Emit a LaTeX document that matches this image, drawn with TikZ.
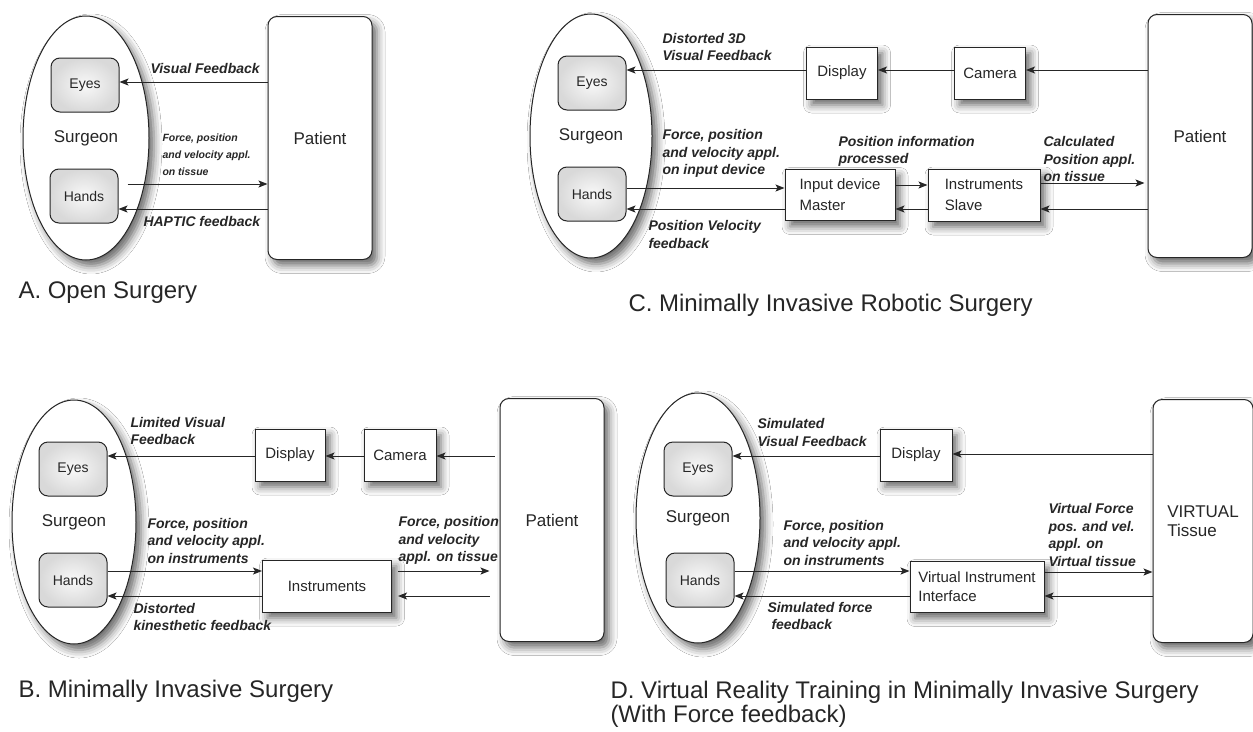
\documentclass[tikz,border=0pt]{standalone}
\usepackage{fontspec}
\setmainfont{Liberation Sans}
\usetikzlibrary{arrows.meta,positioning,shapes.geometric,shadows.blur}
\tikzset{>/.tip={Stealth[length=9pt,width=7pt,inset=2pt]}}
\newcommand\lblfont{\fontsize{14}{17.5}\selectfont\bfseries\itshape}
\newcommand\smlblfont{\fontsize{10.5}{17}\selectfont\bfseries\itshape}
\newcommand\boxfont{\fontsize{15}{19}\selectfont}
\newcommand\organfont{\fontsize{14}{17}\selectfont}
\newcommand\bigfont{\fontsize{17}{19}\selectfont}
\newcommand\titlefont{\fontsize{24}{24}\selectfont}
\tikzset{
  shdw/.style={blur shadow={shadow xshift=5pt,shadow yshift=-6pt,shadow blur radius=8pt,shadow opacity=60}},
  surgeon/.style={ellipse,draw,fill=white,font=\bigfont,shdw},
  organ/.style={rounded corners=9pt,draw,inner color=gray!5,outer color=gray!30,minimum width=68pt,minimum height=54pt,font=\organfont},
  device/.style={draw,fill=white,minimum height=52pt,inner sep=6pt,font=\boxfont,shdw},
  patient/.style={rounded corners=9pt,draw,fill=white,minimum width=104pt,minimum height=243pt,font=\bigfont,shdw},
  lbl/.style={font=\lblfont,align=left,inner sep=0pt,anchor=west},
  ttl/.style={font=\titlefont,align=left,inner sep=0pt,anchor=base west},
}
\begin{document}
\begin{tikzpicture}[x=1pt,y=-1pt,line width=1pt,color=black!85,node distance=1em and 3em]
      \useasboundingbox (0,0) rectangle (1253,731);
      \fill[white] (0,0) rectangle (1253,731);

      \node[surgeon,minimum width=126pt,minimum height=244pt](sgA) at (86,138){Surgeon};
      \node[organ](eyeA) at (85,85){Eyes};
      \node[organ](handA) at (84,196){Hands};
      \node[patient](patA) at (320,138){Patient};
      \node[lbl](lvA) at (150,68){Visual Feedback};
      \node[lbl,font=\smlblfont](lfA) at (162,155){Force, position\\and velocity appl.\\on tissue};
      \node[lbl](lhA) at (143,221){HAPTIC feedback};
      \node[ttl](tA) at (18,298){A. Open Surgery};
      \draw[->] (patA.west|-0,82) -- (eyeA.east|-0,82);
      \draw[->,shorten <=9pt] (handA.east|-0,184) -- (patA.west|-0,184);
      \draw[->] (patA.west|-0,209) -- (handA.east|-0,209);

      \node[surgeon,minimum width=122pt,minimum height=244pt](sgC) at (591,136){Surgeon};
      \node[organ](eyeC) at (592,83){Eyes};
      \node[organ](handC) at (592,194){Hands};
      \node[device,minimum width=71pt](dispC) at (842,73){Display};
      \node[device,minimum width=71pt,right=76pt of dispC](camC){Camera};
      \node[patient](patC) at (1200,136){Patient};
      \node[device,minimum width=110pt,minimum height=51pt,align=left](inC) at (840,195){Input device\\[2pt]Master};
      \node[device,minimum width=112pt,align=left,right=32pt of inC](insC){Instruments\\[2pt]Slave};
      \node[lbl](lvC) at (662,47){Distorted 3D\\Visual Feedback};
      \node[lbl](lfC) at (662,153.5){Force, position\\and velocity appl.\\on input device};
      \node[lbl](lpC) at (648,234.5){Position Velocity\\feedback};
      \node[lbl](liC) at (838,151.5){Position information\\processed};
      \node[lbl](lcC) at (1043,159){Calculated\\Position appl.\\on tissue};
      \node[ttl](tC) at (628,311){C. Minimally Invasive Robotic Surgery};
      \draw[->] (patC.west|-0,70) -- (camC.east|-0,70);
      \draw[->] (camC.west|-0,70) -- (dispC.east|-0,70);
      \draw[->] (dispC.west|-0,70) -- (eyeC.east|-0,70);
      \draw[->] (handC.east|-0,188) -- (inC.west|-0,188);
      \draw[->] (inC.west|-0,209) -- (handC.east|-0,209);
      \draw[->] (inC.east|-0,185) -- (insC.west|-0,185);
      \draw[->] (insC.west|-0,209) -- (inC.east|-0,209);
      \draw[->,shorten >=3pt] (insC.east|-0,183) -- (patC.west|-0,183);
      \draw[->] (patC.west|-0,209) -- (insC.east|-0,209);

      \node[surgeon,minimum width=124pt,minimum height=244pt](sgB) at (74,522){Surgeon};
      \node[organ](eyeB) at (73,469){Eyes};
      \node[organ](handB) at (73,580){Hands};
      \node[device,minimum width=70pt](dispB) at (290,455){Display};
      \node[device,minimum width=72pt,right=38pt of dispB](camB){Camera};
      \node[patient](patB) at (552,520){Patient};
      \node[device,minimum width=129pt](insB) at (327,586){Instruments};
      \node[lbl](lvB) at (130,431){Limited Visual\\Feedback};
      \node[lbl](lfB) at (147,540.5){Force, position\\and velocity appl.\\on instruments};
      \node[lbl](ldB) at (133,617){Distorted\\kinesthetic feedback};
      \node[lbl](ltB) at (398,540.5){Force, position\\and velocity\\appl. on tissue};
      \node[ttl](tB) at (18,697){B. Minimally Invasive Surgery};
      \draw[->,shorten <=5pt] (patB.west|-0,456) -- (camB.east|-0,456);
      \draw[->] (camB.west|-0,456) -- (dispB.east|-0,456);
      \draw[->] (dispB.west|-0,456) -- (eyeB.east|-0,456);
      \draw[->] (handB.east|-0,571) -- (insB.west|-0,571);
      \draw[->] (insB.west|-0,596) -- (handB.east|-0,596);
      \draw[->,shorten <=6pt,shorten >=10pt] (insB.east|-0,571) -- (patB.west|-0,571);
      \draw[->,shorten <=10pt,shorten >=6pt] (patB.west|-0,596) -- (insB.east|-0,596);

      \node[surgeon,minimum width=124pt,minimum height=250pt](sgD) at (698,518){Surgeon};
      \node[organ](eyeD) at (698,469){Eyes};
      \node[organ](handD) at (700,580){Hands};
      \node[device,minimum width=72pt](dispD) at (916,455){Display};
      \node[patient,minimum width=100pt,align=left](vtD) at (1203,521){VIRTUAL\\Tissue};
      \node[device,minimum width=134pt,minimum height=51pt,align=left](viD) at (977,587){Virtual Instrument\\Interface};
      \node[lbl](lvD) at (757,432.5){Simulated\\Visual Feedback};
      \node[lbl](lfD) at (783,542.5){Force, position\\and velocity appl.\\on instruments};
      \node[lbl](lsD) at (767,616){Simulated force\\\hspace{4pt}feedback};
      \node[lbl](lvtD) at (1048,535){Virtual Force\\pos. and vel.\\appl. on\\Virtual tissue};
      \node[ttl,anchor=west](tD) at (610,704){D. Virtual Reality Training in Minimally Invasive Surgery\\(With Force feedback)};
      \draw[->] (vtD.west|-0,454) -- (dispD.east|-0,454);
      \draw[->] (dispD.west|-0,456) -- (eyeD.east|-0,456);
      \draw[->] (handD.east|-0,571) -- (viD.west|-0,571);
      \draw[->] (viD.west|-0,596) -- (handD.east|-0,596);
      \draw[->] (viD.east|-0,572) -- (vtD.west|-0,572);
      \draw[->] (vtD.west|-0,596) -- (viD.east|-0,596);
    \end{tikzpicture}
\end{document}
